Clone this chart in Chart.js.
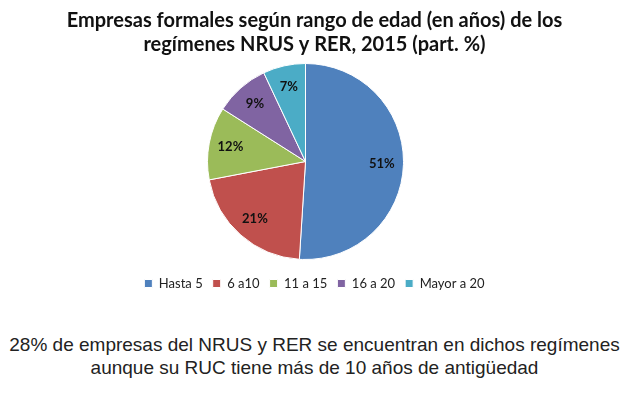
<!DOCTYPE html>
<html>
<head>
<meta charset="utf-8">
<script src="https://cdn.jsdelivr.net/npm/chart.js@4.4.0/dist/chart.umd.min.js"></script>
<style>
  body { margin: 0; background: #fff; }
  #wrap { position: relative; width: 629px; height: 394px; }
  #chartBox { position: absolute; left: 0; top: 0; width: 629px; height: 306px; }
  #note {
    position: absolute; left: 0; top: 333px; width: 629px;
    text-align: center; font-family: "Liberation Sans", Arial, sans-serif;
    font-size: 19px; line-height: 23px; color: #222;
  }
</style>
</head>
<body>
<div id="wrap">
  <div id="chartBox"><canvas id="pie"></canvas></div>
  <div id="note">28% de empresas del NRUS y RER se encuentran en dichos regímenes<br>aunque su RUC tiene más de 10 años de antigüedad</div>
</div>
<script>
// data
const categories = ['Hasta 5', '6 a10', '11 a 15', '16 a 20', 'Mayor a 20'];
const shares = [51, 21, 12, 9, 7];
const sliceColors = ['#4F81BD', '#C0504D', '#9BBB59', '#8064A2', '#4BACC6'];

// pie sits a bit left of the title/legend in the original, and leaves a gap above the legend
const nudgeArea = {
  id: 'nudgeArea',
  afterLayout(chart) {
    const a = chart.chartArea;
    a.right -= 18;
    a.bottom -= 7;
    a.width = a.right - a.left;
    a.height = a.bottom - a.top;
  }
};

// percent labels inside the slices
const sliceLabels = {
  id: 'sliceLabels',
  afterDatasetsDraw(chart) {
    const ctx = chart.ctx;
    const meta = chart.getDatasetMeta(0);
    ctx.save();
    ctx.font = 'bold 13px Lato, sans-serif';
    ctx.fillStyle = '#111';
    ctx.textAlign = 'center';
    ctx.textBaseline = 'middle';
    meta.data.forEach((arc, i) => {
      const mid = (arc.startAngle + arc.endAngle) / 2;
      const r = arc.outerRadius * 0.78;
      ctx.fillText(shares[i] + '%', arc.x + Math.cos(mid) * r, arc.y + Math.sin(mid) * r);
    });
    ctx.restore();
  }
};

new Chart(document.getElementById('pie'), {
  type: 'pie',
  data: {
    labels: categories,
    datasets: [{
      data: shares,
      backgroundColor: sliceColors,
      borderColor: '#fff',
      borderWidth: 1
    }]
  },
  options: {
    responsive: true,
    maintainAspectRatio: false,
    animation: false,
    layout: { padding: { bottom: 6 } },
    plugins: {
      title: {
        display: true,
        text: ['Empresas formales según rango de edad (en años) de los', 'regímenes NRUS y RER, 2015 (part. %)'],
        color: '#111',
        font: { family: 'Lato, sans-serif', size: 20, weight: 'bold', lineHeight: 1.2 },
        padding: { top: 9, bottom: 6 }
      },
      legend: {
        position: 'bottom',
        labels: {
          color: '#222',
          font: { family: 'Lato, sans-serif', size: 13 },
          boxWidth: 8,
          boxHeight: 8,
          padding: 10
        }
      },
      tooltip: { enabled: false }
    }
  },
  plugins: [nudgeArea, sliceLabels]
});
</script>
</body>
</html>
